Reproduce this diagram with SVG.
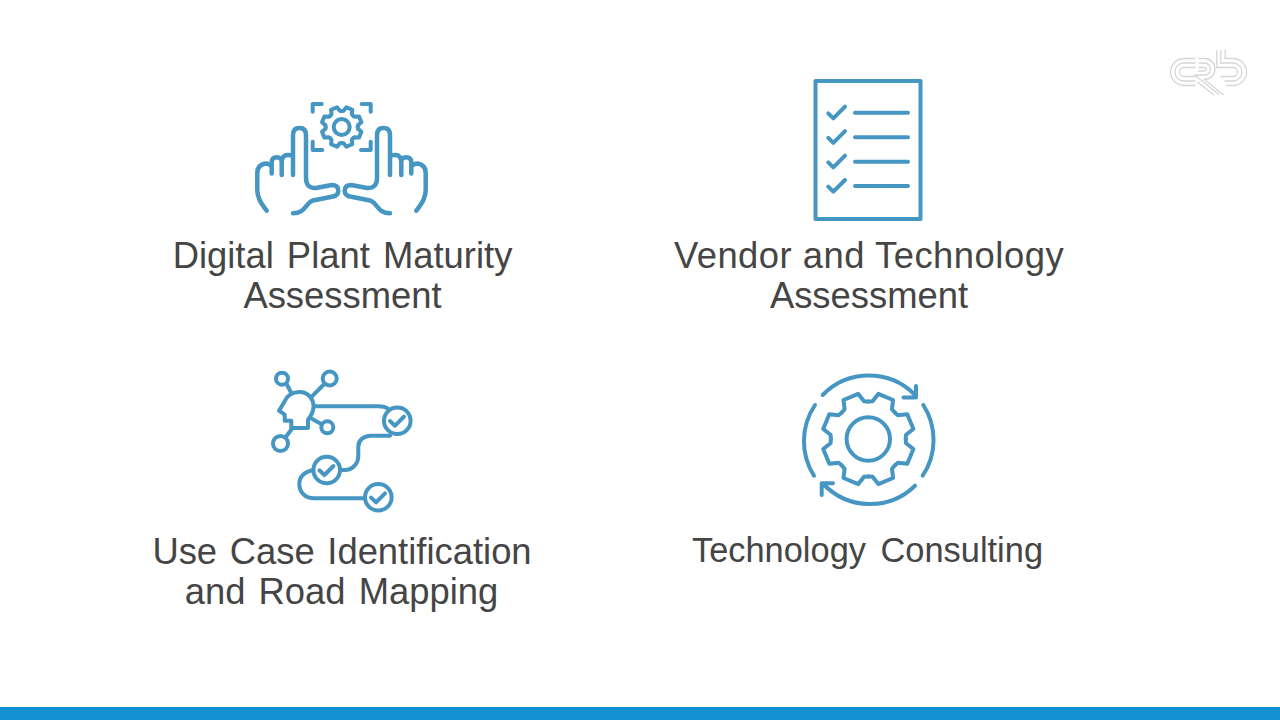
<svg xmlns="http://www.w3.org/2000/svg" xmlns:xlink="http://www.w3.org/1999/xlink" width="1280" height="720" viewBox="0 0 1280 720">
<style>
.i{fill:none;stroke:#4596c3;stroke-width:4;stroke-linecap:round;stroke-linejoin:round}
.t{font-family:"Liberation Sans",Arial,sans-serif;font-size:36.4px;fill:#454545;text-anchor:middle}
.l{fill:none;stroke:#d6d6d6;stroke-width:1.3}
</style>
<defs>
<path id="st" d="M-6.1,-14.8 L-4.5,-15.8 L-3.2,-20 H3.2 L4.5,-15.8 L6.1,-14.8"/>
<path id="bt" d="M-14.3,-34.6 L-10.5,-36.5 L-8,-45.500 H8 L10.5,-36.5 L14.3,-34.6"/>
<path id="ck" d="M-7.3,0.3 L-2.3,5 L6.7,-4"/>
<g id="hand">
<path stroke-width="4.500" d="M266.700,210.700 C260,202 257.300,197 257.300,190 V173 Q257.300,165 265,163.500 Q270,163.500 271.700,166.700 M271.700,173.500 V162 Q272,157.300 276.700,157.300 Q281.700,157.300 281.700,162 V175 M281.700,162 Q282,155.500 287,155 Q291,154.800 293,156 M293,175 V135 Q293,128 299.500,128 Q306,128 306,135 V178 Q306,188.500 316,188 L331.700,185 Q338.300,185 338.300,190.700 Q338.300,196 331.700,196.700 L313,200.500 C306,202 306,213.300 293,213.300"/>
</g>
</defs>
<rect width="1280" height="720" fill="#ffffff"/>
<rect y="707" width="1280" height="13" fill="#1290cf"/>
<g id="logo" class="l" transform="translate(-1.500,0)">
<path d="M1197,58.500 H1185.500 a13.500,13.500 0 0 0 0,27 H1197 M1197,63 H1185.500 a9,9 0 0 0 0,18 H1197 M1197,67.500 H1185.500 a4.500,4.500 0 0 0 0,9 H1197"/>
<path d="M1200,58.500 H1206 a10.500,10.500 0 0 1 0,21 L1225,95 M1200,63 H1206 a6,6 0 0 1 0,12 H1196.300 L1221,95 M1200,67.500 H1206 a1.750,1.750 0 0 1 0,3.500 H1200 M1199,82 L1215.500,95"/>
<path d="M1226.700,50 V58.500 H1234.500 a13.500,13.500 0 0 1 0,27 H1228 M1222.300,50 V63 H1234.500 a9,9 0 0 1 0,18 H1226 M1218.300,50 V67.500 H1234.500 a4.500,4.500 0 0 1 0,9 H1222"/>
</g>
<g id="node1" class="i">
<use xlink:href="#hand" href="#hand"/>
<use xlink:href="#hand" href="#hand" transform="translate(683,0) scale(-1,1)"/>
<path d="M312.700,111.700 V104 H321.700 M361.700,104 H370.700 V111.700 M312.700,141.700 V150 H322.300 M361,150 H370.700 V141.700"/>
<g transform="translate(341.700,127)">
<circle r="8"/>
<use href="#st" transform="rotate(22.500)"/><use href="#st" transform="rotate(67.500)"/><use href="#st" transform="rotate(112.500)"/><use href="#st" transform="rotate(157.500)"/><use href="#st" transform="rotate(202.500)"/><use href="#st" transform="rotate(247.500)"/><use href="#st" transform="rotate(292.500)"/><use href="#st" transform="rotate(337.500)"/>
</g>
</g>
<text class="t" x="342.500" y="268" word-spacing="3">Digital Plant Maturity</text>
<text class="t" x="342.500" y="308">Assessment</text>
<g id="node2" class="i">
<rect x="815.500" y="81" width="105" height="138"/>
<path d="M855,112.700 H908 M855,137.200 H908 M855,161.700 H908 M855,186 H908"/>
<path d="M828.300,113.300 L833.300,118.300 L845,106.700 M828.300,137.800 L833.300,142.800 L845,131.200 M828.300,162.300 L833.300,167.300 L845,155.700 M828.300,186.600 L833.300,191.600 L845,180"/>
</g>
<text class="t" x="869" y="268" letter-spacing="0.5">Vendor and Technology</text>
<text class="t" x="869" y="308">Assessment</text>
<g id="node3" class="i">
<circle cx="282" cy="378.700" r="6"/>
<circle cx="329.700" cy="378.500" r="7"/>
<circle cx="327.300" cy="427.300" r="6"/>
<circle cx="280.500" cy="443.500" r="7.500"/>
<path d="M291.300,428 V420.700 H284.700 V414.700 L279,410.700 L284.700,401.300 C287,396 292,392 299.700,392 C308,392 313.500,399 313.500,406.300 C313.500,411 311,416 308,419.700 V428 Z"/>
<path d="M286.700,384.300 L290.700,391.700 M323.300,385 L311.700,396.700 M310,417.700 L321.700,424.300 M292.300,428.300 L286,436.700"/>
<path d="M315,406.300 H378 Q385,406.300 388.300,409"/>
<path d="M390,435.700 H370 C362,436.700 358.300,440 358.300,447 V456 C358.300,464 352,470 345,470 H341.700"/>
<path d="M313.300,470 C304,472 299.300,477 299.300,484 C299.300,493 306,498.300 314,498.300 H364"/>
<g id="c1" transform="translate(397.300,420.700)"><circle r="13.300"/><use href="#ck"/></g>
<g id="c2" transform="translate(326.700,470)"><circle r="13.300"/><use href="#ck"/></g>
<g id="c3" transform="translate(378.300,497.300)"><circle r="13.300"/><use href="#ck"/></g>
</g>
<text class="t" x="342" y="563.500" word-spacing="2.500">Use Case Identification</text>
<text class="t" x="341.500" y="603.500" word-spacing="3">and Road Mapping</text>
<g id="node4" class="i">
<g transform="translate(868.300,439)">
<circle r="21.700"/>
<use href="#bt" transform="rotate(22.500)"/><use href="#bt" transform="rotate(67.500)"/><use href="#bt" transform="rotate(112.500)"/><use href="#bt" transform="rotate(157.500)"/><use href="#bt" transform="rotate(202.500)"/><use href="#bt" transform="rotate(247.500)"/><use href="#bt" transform="rotate(292.500)"/><use href="#bt" transform="rotate(337.500)"/>
</g>
<path d="M822.700,395 A64.500,64.500 0 0 1 915,395 M916,386 V397.500 H903.500"/>
<path d="M915,485.700 A64.500,64.500 0 0 1 823.300,484 M821.700,495 V483.300 H833"/>
<path d="M815,405 A64.500,64.500 0 0 0 814,475.700 M923.300,405 A64.500,64.500 0 0 1 922.700,475.700"/>
</g>
<text class="t" x="867.500" y="562" style="font-size:34.4px" word-spacing="5">Technology Consulting</text>
</svg>
